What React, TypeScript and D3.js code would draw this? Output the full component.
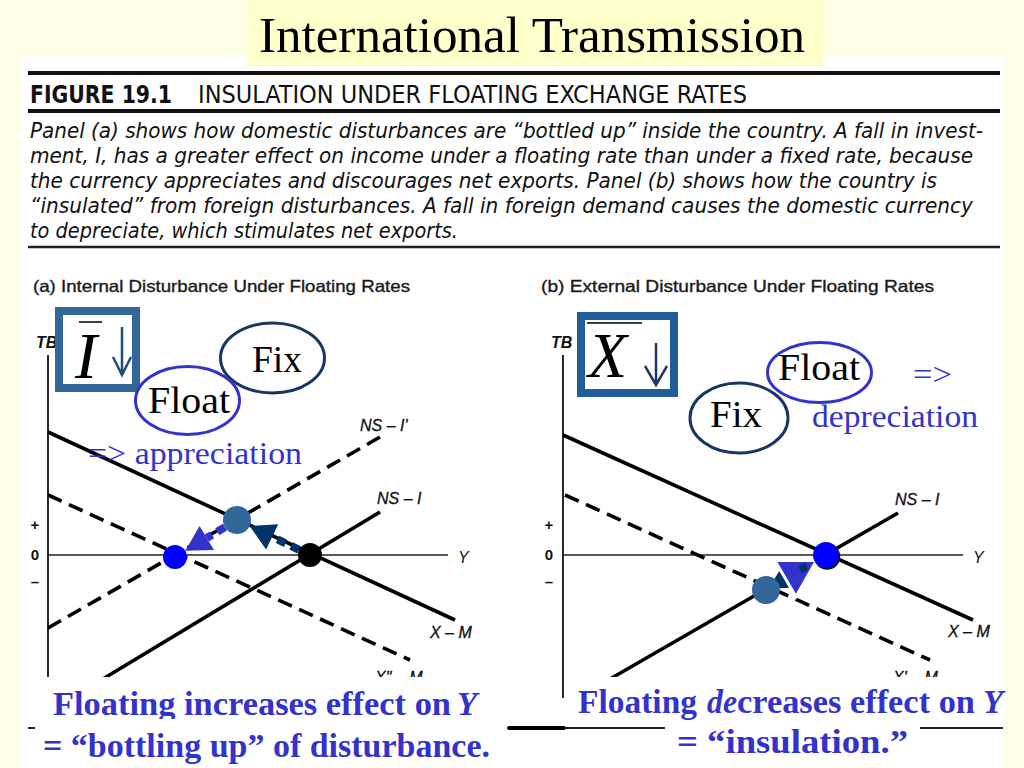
import * as d3 from "d3";

const slideTitle = "International Transmission";
const figureLabel = "FIGURE 19.1";
const figureHeading = "INSULATION UNDER FLOATING EXCHANGE RATES";
const captionLines = [
  "Panel (a) shows how domestic disturbances are \u201Cbottled up\u201D inside the country. A fall in invest-",
  "ment, I, has a greater effect on income under a floating rate than under a fixed rate, because",
  "the currency appreciates and discourages net exports. Panel (b) shows how the country is",
  "\u201Cinsulated\u201D from foreign disturbances. A fall in foreign demand causes the domestic currency",
  "to depreciate, which stimulates net exports.",
];
const captionWidths = [953, 943, 907, 943, 428];

const panelTitles = [
  "(a) Internal Disturbance Under Floating Rates",
  "(b) External Disturbance Under Floating Rates",
];

// TB axis ticks
const tbTicks = [3, 0, -2.7];
const tbTickLabels = ["+", "0", "\u2013"];

// schedules as [Y, TB] end points
const curvesA = [
  { name: "X \u2013 M", dashed: false, pts: [[0, 12.3], [101.75, -6.5]] },
  { name: "X\" \u2013 M", dashed: true, pts: [[0, 6.0], [90.5, -10.5]] },
  { name: "NS \u2013 I", dashed: false, pts: [[5, -14.5], [83, 4.3]] },
  { name: "NS \u2013 I'", dashed: true, pts: [[0, -7.3], [83, 11.8]] },
];
const curvesB = [
  { name: "X \u2013 M", dashed: false, pts: [[0, 12], [102.5, -6.5]] },
  { name: "X' \u2013 M", dashed: true, pts: [[0.5, 6], [91.75, -10.5]] },
  { name: "NS \u2013 I", dashed: false, pts: [[3.5, -14.3], [83.75, 4.2]] },
];

// where each curve name is written, [Y, TB]
const labelPosA = [[95.5, -8.3], [81.75, -12.8], [82.25, 5.1], [78, 12.4]];
const labelPosB = [[96.25, -8.2], [82.5, -12.8], [83, 5]];

// equilibria [Y, TB]
const eqA = { start: [65.5, 0], fix: [47.25, 3.5], float: [31.75, -0.2] };
const eqB = { start: [65.75, 0], fix: [50.75, -3.5] };

const arrowsA = [
  { from: "start", to: "fix", kind: "fix" },
  { from: "fix", to: "float", kind: "float" },
];
const arrowsB = [
  { from: "start", to: "fix", kind: "fixShort" },
  { from: "fix", to: "start", kind: "floatBig" },
];

const BLUE = "#3333CC";
const NAVY = "#003366";
const STEEL = "#336699";

const dotStyleA = {
  start: { fill: "#000000", r: 12 },
  fix: { fill: STEEL, r: 14 },
  float: { fill: "#0000FF", r: 12 },
};
const dotStyleB = {
  start: { fill: "#0000FF", r: 13 },
  fix: { fill: STEEL, r: 14 },
};
// inset: how far the tip stops from the target dot centre
const arrowStyle = {
  fix: { color: NAVY, len: 25, half: 14, inset: null, dash: "9 6", outline: "none" },
  float: { color: BLUE, len: 25, half: 14, inset: null, dash: "9 6", outline: "none" },
  fixShort: { color: NAVY, len: 26, half: 14, inset: 3, dash: "0 9 8 60", outline: "none" },
  floatBig: { color: BLUE, len: 36, half: 21, inset: 11, dash: null, outline: "#ffffff" },
};

const yS = d3.scaleLinear().domain([-15, 20]).range([705, 355]);
const xA = d3.scaleLinear().domain([0, 100]).range([48, 448]);
const xB = d3.scaleLinear().domain([0, 100]).range([563, 963]);

function arrowParts(p0, p1, r0, r1, len, half) {
  const dx = p1[0] - p0[0];
  const dy = p1[1] - p0[1];
  const d = Math.hypot(dx, dy);
  const ux = dx / d;
  const uy = dy / d;
  const tip = [p1[0] - ux * r1, p1[1] - uy * r1];
  const base = [tip[0] - ux * len, tip[1] - uy * len];
  const start = [p0[0] + ux * r0, p0[1] + uy * r0];
  const head = [
    tip,
    [base[0] - uy * half, base[1] + ux * half],
    [base[0] + uy * half, base[1] - ux * half],
  ];
  return { start, base, head };
}

const SANS = "'Liberation Sans', Arial, sans-serif";
const SERIF = "'Liberation Serif', 'Times New Roman', serif";
const COND = "'DejaVu Sans Condensed', 'Liberation Sans Narrow', 'DejaVu Sans', sans-serif";

function Panel({ x, curves, labelPos, eq, dotStyle, arrows, axisEnd, title, titleX, titleW, tickX }) {
  const line = d3.line();
  const px = (p) => [x(p[0]), yS(p[1])];
  const x0 = x(0);
  const parts = arrows.map((a) => {
    const st = arrowStyle[a.kind];
    const r1 = st.inset == null ? dotStyle[a.to].r : st.inset;
    return {
      st,
      ...arrowParts(px(eq[a.from]), px(eq[a.to]), dotStyle[a.from].r, r1, st.len, st.half),
    };
  });
  return (
    <g>
      <text x={titleX} y={292} fontFamily={SANS} fontSize={16.5} textLength={titleW} lengthAdjust="spacingAndGlyphs" fill="#1a1a1a" stroke="#1a1a1a" strokeWidth={0.35}>
        {title}
      </text>
      {/* axes */}
      <line x1={x0} x2={x0} y1={yS(20)} y2={axisEnd} stroke="#111" strokeWidth={1.8} />
      <line x1={x0} x2={x(100)} y1={yS(0)} y2={yS(0)} stroke="#222" strokeWidth={1.4} />
      <text x={x0 - 12} y={348} fontFamily={SANS} fontSize={16} fontWeight="bold" fontStyle="italic" fill="#111">TB</text>
      <text x={x(100) + 10} y={563} fontFamily={SANS} fontSize={16} fontStyle="italic" fill="#111">Y</text>
      {tbTicks.map((t, i) => (
        <text key={i} x={tickX} y={yS(t) + 5} textAnchor="middle" fontFamily={SANS} fontSize={15} fontWeight="bold" fill="#111">
          {tbTickLabels[i]}
        </text>
      ))}
      {curves.map((c) => (
        <path
          key={c.name}
          d={line(c.pts.map(px))}
          fill="none"
          stroke="#000"
          strokeWidth={3.6}
          strokeDasharray={c.dashed ? "15 8" : null}
        />
      ))}
      {curves.map((c, i) => (
        <text key={"l" + i} x={x(labelPos[i][0])} y={yS(labelPos[i][1])} fontFamily={SANS} fontSize={16} fontStyle="italic" fill="#111" stroke="#111" strokeWidth={0.3}>
          {c.name}
        </text>
      ))}
      {/* arrows: heads, then dashed shafts, then the dots */}
      {parts.map((p, i) => (
        <polygon
          key={"h" + i}
          points={p.head.map((q) => q.join(",")).join(" ")}
          fill={p.st.color}
          stroke={p.st.outline}
          strokeWidth={3}
        />
      ))}
      {parts.map((p, i) =>
        p.st.dash ? (
          <line key={"s" + i} x1={p.start[0]} y1={p.start[1]} x2={p.base[0]} y2={p.base[1]} stroke={p.st.color} strokeWidth={8} strokeDasharray={p.st.dash} />
        ) : null
      )}
      {Object.keys(eq).map((k) => (
        <g key={k}>
          {dotStyle[k].fill === "#0000FF" && k === "start" ? (
            <circle cx={px(eq[k])[0] + 1.2} cy={px(eq[k])[1] + 1.8} r={dotStyle[k].r} fill="#111" />
          ) : null}
          <circle cx={px(eq[k])[0]} cy={px(eq[k])[1]} r={dotStyle[k].r} fill={dotStyle[k].fill} />
        </g>
      ))}
    </g>
  );
}

export default function App() {
  const W = 1024;
  const H = 768;
  return (
    <svg width={W} height={H} style={{ position: "absolute", left: 0, top: 0, display: "block" }}>
      <rect x={0} y={0} width={W} height={H} fill="#FFFFE6" />
      <rect x={20} y={56} width={985} height={H - 56} fill="#ffffff" />
      <rect x={248} y={0} width={575} height={66} fill="#FFFFCC" />
      <text x={259} y={52} fontFamily={SERIF} fontSize={50} textLength={546} lengthAdjust="spacingAndGlyphs" fill="#000">
        {slideTitle}
      </text>

      {/* figure header */}
      <line x1={28} x2={1000} y1={73} y2={73} stroke="#111" strokeWidth={4} />
      <text x={30} y={103} fontFamily={COND} fontWeight="bold" fontSize={24} textLength={142} lengthAdjust="spacingAndGlyphs" fill="#111">
        {figureLabel}
      </text>
      <text x={198} y={103} fontFamily={COND} fontSize={24} textLength={549} lengthAdjust="spacingAndGlyphs" fill="#111">
        {figureHeading}
      </text>
      <line x1={28} x2={1000} y1={111} y2={111} stroke="#111" strokeWidth={4} />
      {captionLines.map((t, i) => (
        <text key={i} x={30} y={138 + i * 25} fontFamily={COND} fontStyle="italic" fontSize={21} textLength={captionWidths[i]} lengthAdjust="spacingAndGlyphs" fill="#111">
          {t}
        </text>
      ))}
      <line x1={28} x2={1000} y1={247} y2={247} stroke="#222" strokeWidth={2.5} />

      <Panel
        x={xA}
        curves={curvesA}
        labelPos={labelPosA}
        eq={eqA}
        dotStyle={dotStyleA}
        arrows={arrowsA}
        axisEnd={700}
        title={panelTitles[0]}
        titleX={33}
        titleW={377}
        tickX={35}
      />
      <Panel
        x={xB}
        curves={curvesB}
        labelPos={labelPosB}
        eq={eqB}
        dotStyle={dotStyleB}
        arrows={arrowsB}
        axisEnd={698}
        title={panelTitles[1]}
        titleX={541}
        titleW={393}
        tickX={549}
      />

      {/* panel (a) annotations */}
      <rect x={59} y={311} width={77} height={77} fill="#fff" stroke={STEEL} strokeWidth={8} />
      <text x={75} y={378} fontFamily={SERIF} fontStyle="italic" fontSize={66} fill="#000">I</text>
      <line x1={79} x2={102} y1={322} y2={322} stroke="#000" strokeWidth={1.5} />
      <path d="M122,327 L122,375 M113,357 L122,375 L131,357" fill="none" stroke="#1F4E79" strokeWidth={2.5} />
      <ellipse cx={272.5} cy={358} rx={52} ry={35} fill="#fff" stroke="#17375E" strokeWidth={3} />
      <text x={252} y={372} fontFamily={SERIF} fontSize={38} textLength={50} lengthAdjust="spacingAndGlyphs" fill="#000">Fix</text>
      <ellipse cx={187.5} cy={400.5} rx={52} ry={34} fill="#fff" stroke={BLUE} strokeWidth={3} />
      <text x={148} y={413} fontFamily={SERIF} fontSize={38} textLength={82} lengthAdjust="spacingAndGlyphs" fill="#000">Float</text>
      <text x={88} y={464} fontFamily={SERIF} fontSize={32} textLength={214} lengthAdjust="spacingAndGlyphs" fill={BLUE}>
        {"=> appreciation"}
      </text>

      {/* panel (b) annotations */}
      <rect x={581} y={316} width={93} height={77} fill="#fff" stroke="#215E99" strokeWidth={8} />
      <text x={588} y={377} fontFamily={SERIF} fontStyle="italic" fontSize={64} fill="#000">X</text>
      <line x1={587} x2={642} y1={323} y2={323} stroke="#000" strokeWidth={1.5} />
      <path d="M656,343 L656,385 M645,366 L656,385 L667,366" fill="none" stroke="#1F3864" strokeWidth={2.5} />
      <ellipse cx={819.5} cy={372.5} rx={52} ry={30} fill="#fff" stroke={BLUE} strokeWidth={3} />
      <text x={778} y={380} fontFamily={SERIF} fontSize={38} textLength={82} lengthAdjust="spacingAndGlyphs" fill="#000">Float</text>
      <ellipse cx={739} cy={418} rx={49} ry={35} fill="#fff" stroke="#17375E" strokeWidth={3} />
      <text x={710} y={427} fontFamily={SERIF} fontSize={38} textLength={52} lengthAdjust="spacingAndGlyphs" fill="#000">Fix</text>
      <text x={913} y={385} fontFamily={SERIF} fontSize={32} textLength={39} lengthAdjust="spacingAndGlyphs" fill={BLUE}>{"=>"}</text>
      <text x={812} y={427} fontFamily={SERIF} fontSize={32} textLength={166} lengthAdjust="spacingAndGlyphs" fill={BLUE}>depreciation</text>

      {/* bottom rule of the figure, partly hidden by the text boxes */}
      <line x1={28} x2={1003} y1={728} y2={728} stroke="#222" strokeWidth={2.2} />
      <line x1={508} x2={565} y1={728} y2={728} stroke="#000" strokeWidth={4} />

      {/* bottom text boxes */}
      <rect x={35} y={677} width={472} height={42} fill="#fff" />
      <text y={715} fontFamily={SERIF} fontWeight="bold" fontSize={33} fill={BLUE}>
        <tspan x={53} textLength={398} lengthAdjust="spacingAndGlyphs">Floating increases effect on</tspan>
        <tspan x={457} fontStyle="italic">Y</tspan>
      </text>
      <rect x={35} y={719} width={472} height={49} fill="#fff" />
      <text x={43} y={757} fontFamily={SERIF} fontWeight="bold" fontSize={33} textLength={447} lengthAdjust="spacingAndGlyphs" fill={BLUE}>
        {"= \u201Cbottling up\u201D of disturbance."}
      </text>

      <rect x={570} y={677} width={435} height={45} fill="#fff" />
      <text y={713} fontFamily={SERIF} fontWeight="bold" fontSize={33} fill={BLUE}>
        <tspan x={578} textLength={119} lengthAdjust="spacingAndGlyphs">Floating</tspan>
        <tspan x={707} fontStyle="italic" textLength={30} lengthAdjust="spacingAndGlyphs">de</tspan>
        <tspan x={737} textLength={238} lengthAdjust="spacingAndGlyphs">creases effect on</tspan>
        <tspan x={983} fontStyle="italic">Y</tspan>
      </text>
      <rect x={665} y={722} width={255} height={46} fill="#fff" />
      <text x={677} y={753} fontFamily={SERIF} fontWeight="bold" fontSize={33} textLength={231} lengthAdjust="spacingAndGlyphs" fill={BLUE}>
        {"= \u201Cinsulation.\u201D"}
      </text>
    </svg>
  );
}
